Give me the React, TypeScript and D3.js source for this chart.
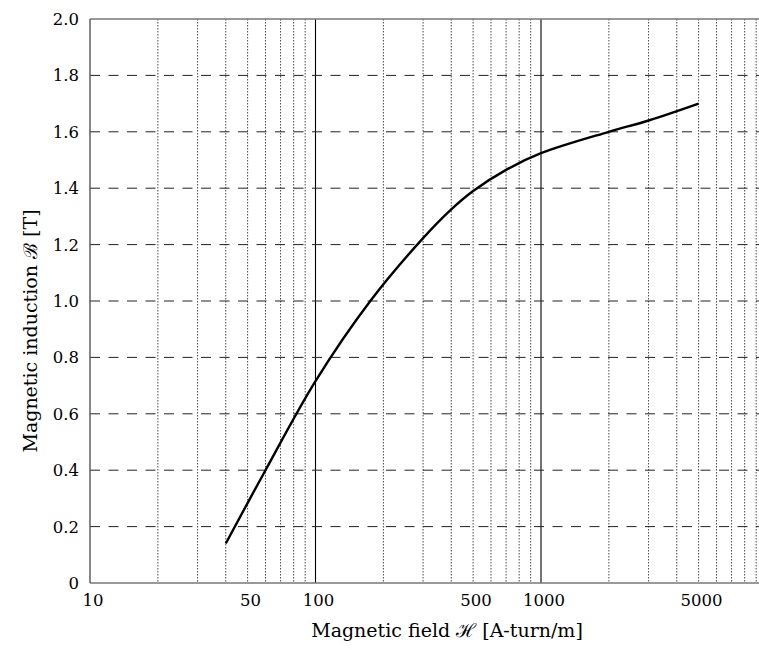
import React from 'react';
import * as d3 from 'd3';

// B-H magnetisation curve
const fieldH = [40, 60, 100, 175, 300, 400, 500, 700, 1000, 2000, 3000, 5000];
const inductionB = [0.14, 0.4, 0.716, 1.0, 1.223, 1.325, 1.39, 1.465, 1.524, 1.6, 1.64, 1.7];

const xTickLabels = [10, 50, 100, 500, 1000, 5000];
const yTicks = [0, 0.2, 0.4, 0.6, 0.8, 1.0, 1.2, 1.4, 1.6, 1.8, 2.0];
const majorX = [100, 1000];
const minorX = [20, 30, 40, 50, 60, 70, 80, 90, 200, 300, 400, 500, 600, 700, 800, 900, 2000, 3000, 4000, 5000, 6000, 7000, 8000, 9000];

const width = 759;
const height = 650;
const font = "'DejaVu Serif', serif";

const App = () => {
    const left = 90, top = 19, bottom = 583;
    const x = d3.scaleLog().domain([10, 10000]).range([left, left + 225.5 * 3]);
    const y = d3.scaleLinear().domain([0, 2]).range([bottom, top]);

    const pts = fieldH.map((h, i) => [h, inductionB[i]]);
    const line = d3.line()
        .x(d => x(d[0]))
        .y(d => y(d[1]))
        .curve(d3.curveCatmullRom.alpha(0.5));

    const tick = { fontFamily: font, fontSize: '16.5px', fill: '#000' };
    const title = { fontFamily: font, fontSize: '19px', fill: '#000' };

    return (
        <svg width={width} height={height} style={{ position: 'absolute', left: 0, top: 0, background: '#fff' }}>
            {/* vertical grid */}
            {minorX.map(v => (
                <line key={'mx' + v} x1={x(v)} x2={x(v)} y1={top} y2={bottom}
                    stroke="#333" strokeWidth={0.9} strokeDasharray="1.5,1.5" />
            ))}
            {majorX.map(v => (
                <line key={'Mx' + v} x1={x(v)} x2={x(v)} y1={top} y2={bottom}
                    stroke="#000" strokeWidth={1.1} />
            ))}
            {/* horizontal grid */}
            {yTicks.filter(v => v > 0 && v < 2).map(v => (
                <line key={'gy' + v} x1={left} x2={width} y1={y(v)} y2={y(v)}
                    stroke="#222" strokeWidth={1} strokeDasharray="10,8.5" />
            ))}
            {/* frame */}
            <line x1={left} x2={width} y1={top} y2={top} stroke="#777" strokeWidth={1.6} />
            <line x1={left} x2={width} y1={bottom} y2={bottom} stroke="#777" strokeWidth={1.6} />
            <line x1={left} x2={left} y1={top} y2={bottom} stroke="#555" strokeWidth={1.4} />

            <path d={line(pts)} fill="none" stroke="#000" strokeWidth={2.4} />

            {/* tick labels */}
            {yTicks.map(v => (
                <text key={'ty' + v} x={left - 11} y={y(v) + 6} textAnchor="end" style={tick}>
                    {v === 0 ? '0' : v.toFixed(1)}
                </text>
            ))}
            {xTickLabels.map(v => (
                <text key={'tx' + v} x={x(v) + 3} y={606} textAnchor="middle" style={tick}>
                    {v}
                </text>
            ))}

            <text x={447} y={637} textAnchor="middle" style={title}>
                Magnetic field ℋ [A-turn/m]
            </text>
            <text transform="translate(37,331) rotate(-90)" textAnchor="middle" style={title}>
                Magnetic induction ℬ [T]
            </text>
        </svg>
    );
};

export default App;
